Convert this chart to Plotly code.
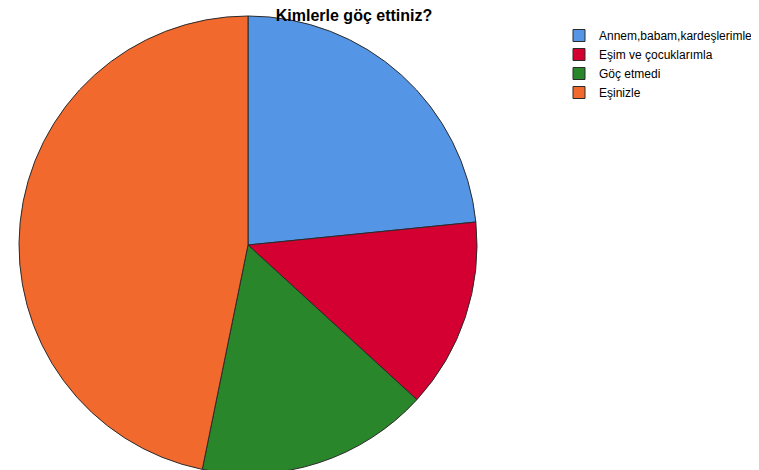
import plotly.graph_objects as go

labels = ["Annem,babam,kardeşlerimle", "Eşim ve çocuklarımla", "Göç etmedi", "Eşinizle"]
values = [23.4, 13.4, 16.4, 46.8]
colors = ["#5595E5", "#D50032", "#29862B", "#F2692E"]

W, H = 759, 470
cx, cy, r = 240, 237, 229

fig = go.Figure(go.Pie(
    labels=labels, values=values, sort=False, direction="clockwise", rotation=0,
    marker=dict(colors=colors, line=dict(color="#2b2b2b", width=1)),
    textinfo="none", hoverinfo="label+percent",
    domain=dict(x=[(cx - r) / W, (cx + r) / W], y=[max(0, (H - cy - r) / H), min(1, (H - cy + r) / H)]),
))
fig.update_layout(
    width=W, height=H, margin=dict(l=0, r=0, t=0, b=0),
    paper_bgcolor="white", plot_bgcolor="white",
    font=dict(family="Liberation Sans, Arial, sans-serif", size=12, color="#000000"),
    title=dict(text="<b>Kimlerle göç ettiniz?</b>", x=346 / W, xanchor="center", y=1 - 7 / H, yanchor="middle",
               font=dict(size=16, color="#000000")),
    legend=dict(x=551 / W, y=1 - 13 / H, xanchor="left", yanchor="top", font=dict(size=12),
                tracegroupgap=0, bgcolor="rgba(0,0,0,0)"),
)
fig.write_html("out.html")
